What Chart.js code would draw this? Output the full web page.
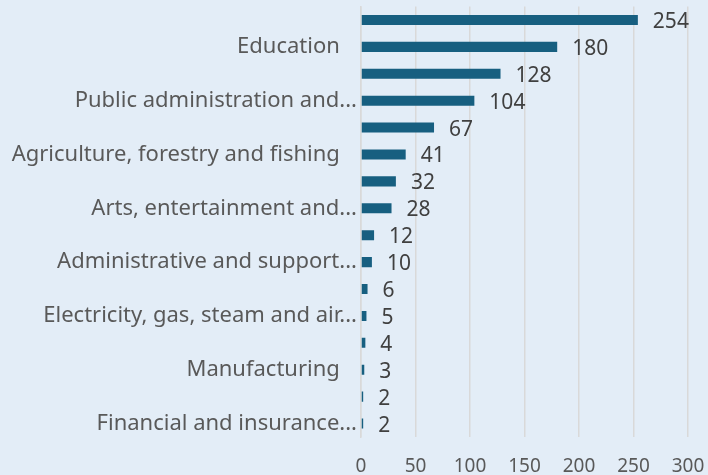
<!DOCTYPE html>
<html>
<head>
<meta charset="utf-8">
<script src="https://cdn.jsdelivr.net/npm/chart.js@4.4.1/dist/chart.umd.min.js"></script>
<style>
  html, body { margin: 0; padding: 0; background: #e3edf7; }
  #wrap { width: 708px; height: 475px; }
</style>
</head>
<body>
<div id="wrap"><canvas id="grafico"></canvas></div>
<script>
// categorias (de arriba hacia abajo)
const categorias = [
  'Human health and social work activities',
  'Education',
  'Professional, scientific and technical activities',
  'Public administration and defence',
  'Information and communication',
  'Agriculture, forestry and fishing',
  'Wholesale and retail trade',
  'Arts, entertainment and recreation',
  'Transportation and storage',
  'Administrative and support service activities',
  'Construction',
  'Electricity, gas, steam and air conditioning supply',
  'Accommodation and food service activities',
  'Manufacturing',
  'Mining and quarrying',
  'Financial and insurance activities'
];
// etiquetas que se ven en el eje (una si, una no)
const etiquetasEje = [
  '', 'Education   ', '', 'Public administration and...', '', 'Agriculture, forestry and fishing   ',
  '', 'Arts, entertainment and...', '', 'Administrative and support...', '',
  'Electricity, gas, steam and air...', '', 'Manufacturing   ', '', 'Financial and insurance...'
];
const valores = [254, 180, 128, 104, 67, 41, 32, 28, 12, 10, 6, 5, 4, 3, 2, 2];
const ticksX = [0, 50, 100, 150, 200, 250, 300];

const fuente = "'Noto Sans', sans-serif";

// dibuja el valor a la derecha de cada barra
const etiquetasValor = {
  id: 'etiquetasValor',
  afterDatasetsDraw(chart) {
    const ctx = chart.ctx;
    const meta = chart.getDatasetMeta(0);
    ctx.save();
    ctx.font = '21px ' + fuente;
    ctx.fillStyle = '#404040';
    ctx.textAlign = 'left';
    ctx.textBaseline = 'middle';
    meta.data.forEach((bar, i) => {
      ctx.fillText(String(valores[i]), bar.x + 15, bar.y + 2);
    });
    ctx.restore();
  }
};

const ctx = document.getElementById('grafico').getContext('2d');
const myChart = new Chart(ctx, {
  type: 'bar',
  data: {
    labels: categorias,
    datasets: [{
      data: valores,
      backgroundColor: '#175f80',
      borderWidth: 0,
      barPercentage: 0.75,
      categoryPercentage: 0.5
    }]
  },
  options: {
    indexAxis: 'y',
    responsive: true,
    maintainAspectRatio: false,
    animation: false,
    layout: { padding: { top: 6.5, right: 20, left: 0, bottom: 0 } },
    plugins: {
      legend: { display: false },
      tooltip: { enabled: false }
    },
    scales: {
      x: {
        min: 0,
        max: 300,
        afterBuildTicks: (axis) => { axis.ticks = ticksX.map(v => ({ value: v })); },
        grid: { color: '#d9d9d9', lineWidth: 1.5, drawTicks: false },
        border: { display: false },
        ticks: {
          color: '#595959',
          font: { family: fuente, size: 19 },
          padding: 18,
          maxRotation: 0
        },
        afterFit: (axis) => {
          axis.height = 38;
          axis.paddingLeft = 0;
          axis.paddingRight = 0;
        }
      },
      y: {
        grid: { display: false, drawTicks: false },
        border: { display: true, color: '#d9d9d9', width: 1.5 },
        ticks: {
          autoSkip: false,
          color: '#595959',
          font: { family: fuente, size: 22 },
          padding: 4,
          callback: (val, i) => etiquetasEje[i]
        },
        afterFit: (axis) => {
          axis.width = 361;
          axis.paddingTop = 0;
          axis.paddingBottom = 0;
        }
      }
    }
  },
  plugins: [etiquetasValor]
});
</script>
</body>
</html>
